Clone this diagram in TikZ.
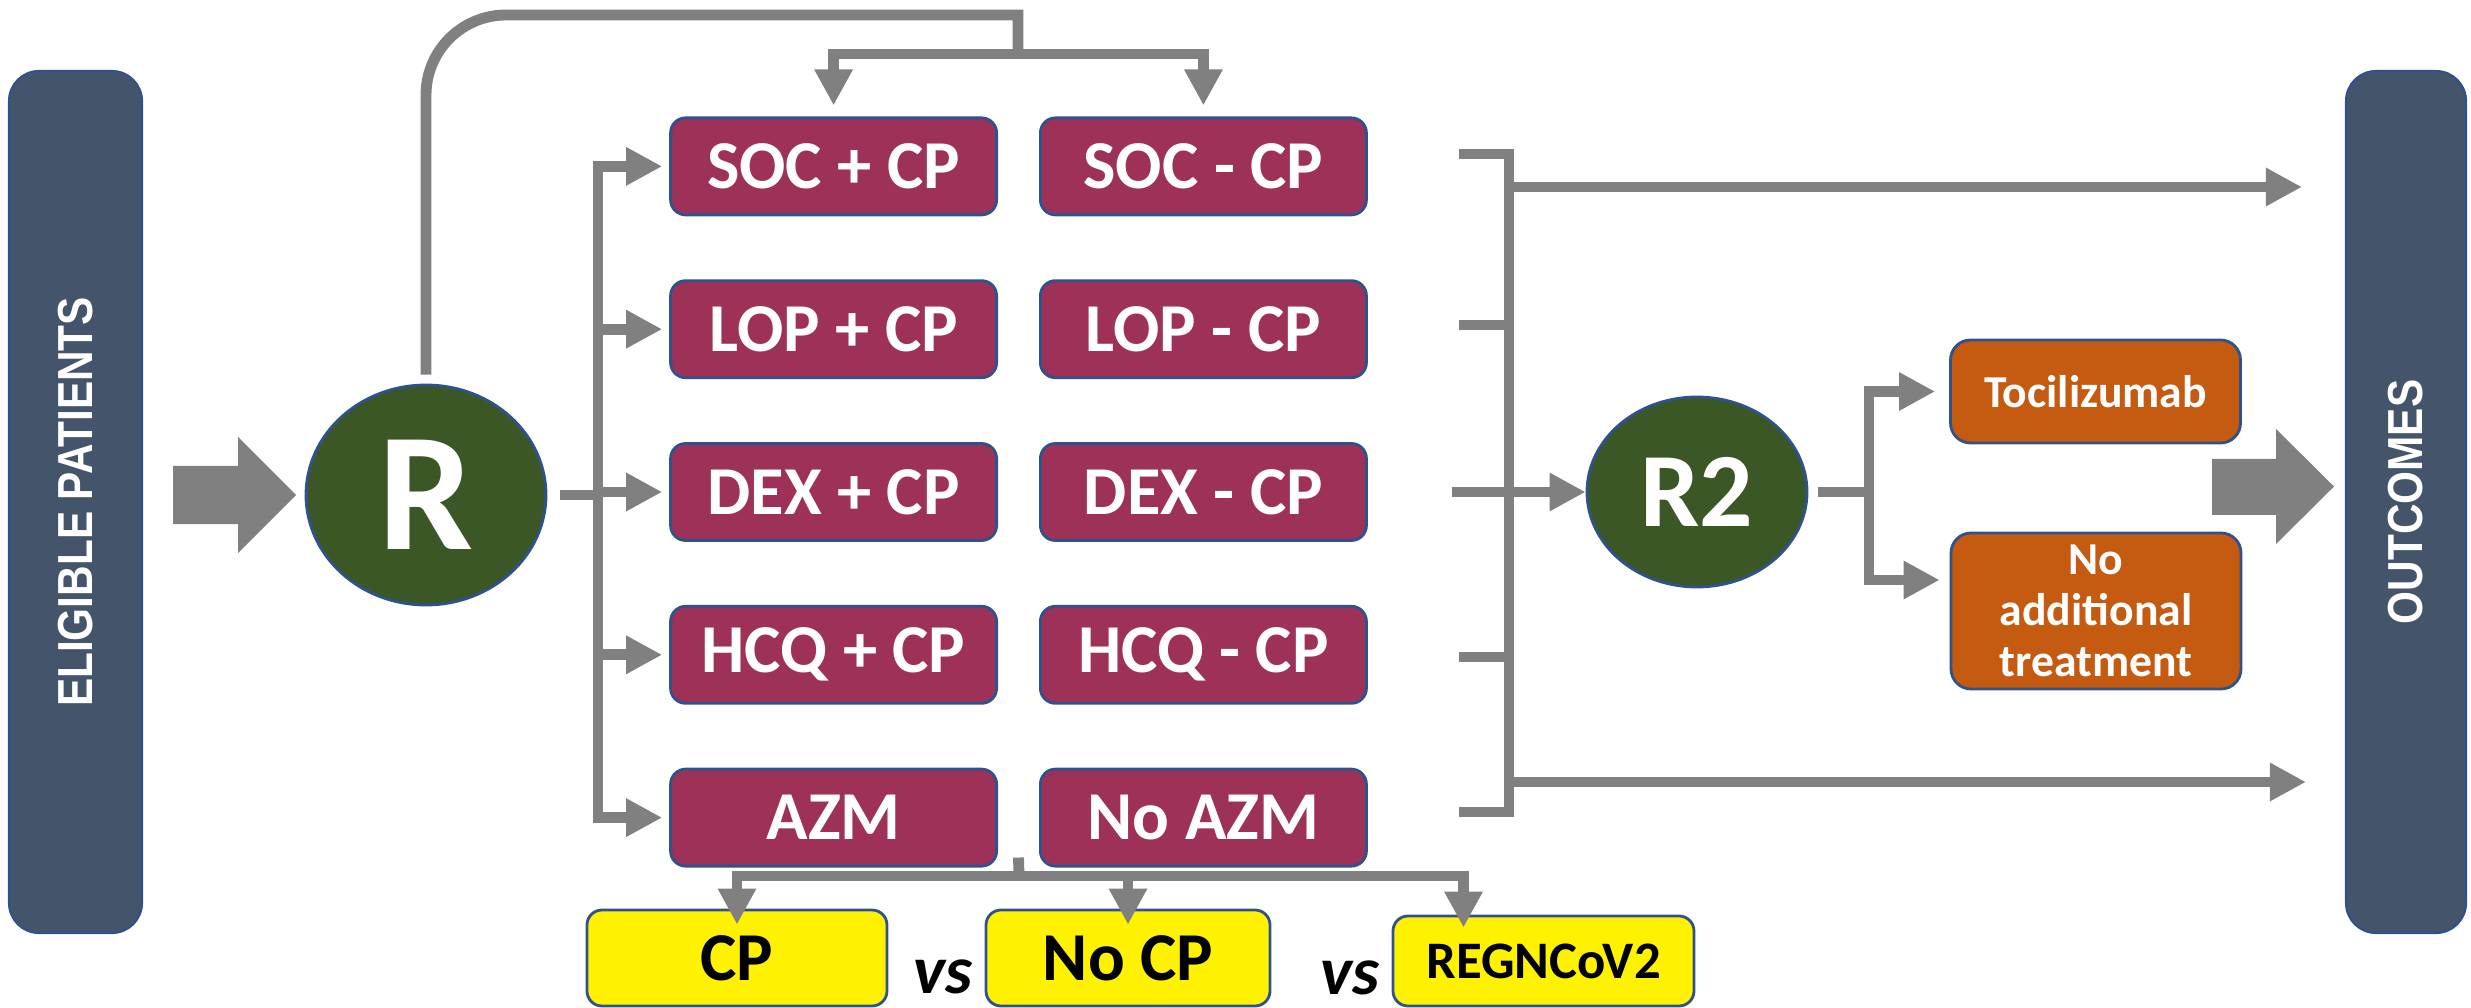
\documentclass[tikz,border=0pt]{standalone}
\usepackage{fontspec}
\setmainfont{Carlito}
\newfontfamily\barfont{Liberation Sans}
\usepackage{tikz}
\usetikzlibrary{positioning, calc, arrows.meta, shapes.geometric}
\definecolor{slate}{HTML}{44546A}
\definecolor{edge}{HTML}{2F528F}
\definecolor{plum}{HTML}{9E3158}
\definecolor{darkgreen}{RGB}{59,87,37}
\definecolor{rust}{HTML}{C55A11}
\definecolor{linegray}{HTML}{808080}
\newcommand{\bartext}[1]{\scalebox{0.86}[1]{\barfont\bfseries #1}}
\newcommand{\fsize}[1]{\fontsize{#1}{#1}\selectfont}

\begin{document}
\begin{tikzpicture}[
			sidebar/.style={
					rectangle, draw=edge, line width=0.6pt, fill=slate, rounded corners=0.3cm,
					minimum height=8.62cm, text=white, font=\fsize{14}
				},
			randnode/.style={
					ellipse, draw=edge, line width=0.8pt, fill=darkgreen, text=white, inner sep=0pt
				},
			arm/.style={
					rectangle, draw=edge, line width=0.8pt, fill=plum, rounded corners=0.15cm,
					minimum width=3.26cm, minimum height=0.97cm, text=white, inner sep=0pt,
					font=\fsize{19.5}\bfseries
				},
			second/.style={
					rectangle, draw=edge, line width=0.8pt, fill=rust, rounded corners=0.2cm,
					minimum width=2.9cm, text=white, align=center, inner sep=0pt,
					font=\fontsize{13}{14.5}\selectfont\bfseries
				},
			compare/.style={
					rectangle, draw=edge, line width=0.8pt, fill=yellow, rounded corners=0.15cm,
					minimum height=0.96cm, inner sep=0pt, font=\fsize{19.5}\bfseries
				},
			conn/.style={draw=linegray, line width=3.1pt},
			arr/.style={conn, -{Triangle[length=3.6mm, width=3.6mm]}}
		]
		\useasboundingbox (0,0) rectangle (24.71,-10.08);

		% Side bars
		\node[sidebar, minimum width=1.33cm] (elig) at (0.755,-5.02) {};
		\node[rotate=90, text=white, font=\fsize{14}] at (elig.center) {\bartext{ELIGIBLE PATIENTS}};
		\node[sidebar, minimum width=1.20cm] (out) at (24.06,-5.02) {};
		\node[rotate=90, text=white, font=\fsize{14}] at (out.center) {\bartext{OUTCOMES}};

		% Big block arrows
		\fill[linegray] (1.73,-4.66) -- (2.38,-4.66) -- (2.38,-4.37) -- (2.96,-4.95)
			-- (2.38,-5.53) -- (2.38,-5.24) -- (1.73,-5.24) -- cycle;
		\fill[linegray] (22.12,-4.59) -- (22.76,-4.59) -- (22.76,-4.29) -- (23.34,-4.865)
			-- (22.76,-5.44) -- (22.76,-5.15) -- (22.12,-5.15) -- cycle;

		% Randomisation nodes
		\node[randnode, minimum width=2.40cm, minimum height=2.20cm, font=\fsize{48}\bfseries] (R) at (4.26,-4.95) {R};
		\node[randnode, minimum width=2.20cm, minimum height=1.90cm, font=\fsize{30}\bfseries] (R2) at (16.97,-4.92) {R2};

		% Treatment arms
		\matrix[column sep=0.41cm, row sep=0.63cm] (arms) at (10.185,-4.92) {
			\node[arm] (socp) {SOC + CP}; &
			\node[arm] (socm) {SOC - CP}; \\
			\node[arm] (lopp) {LOP + CP}; &
			\node[arm] (lopm) {LOP - CP}; \\
			\node[arm] (dexp) {DEX + CP}; &
			\node[arm] (dexm) {DEX - CP}; \\
			\node[arm] (hcqp) {HCQ + CP}; &
			\node[arm] (hcqm) {HCQ - CP}; \\
			\node[arm] (azm) {AZM}; &
			\node[arm] (noazm) {No AZM}; \\
		};

		% Second randomisation
		\node[second, minimum height=1.03cm] (toci) at (20.955,-3.915) {Tocilizumab};
		\node[second, minimum height=1.56cm] (noadd) at (20.96,-6.11) {No\\additional\\treatment};

		% Plasma comparison
		\node[compare, minimum width=3.0cm] (cp) at (7.37,-9.58) {CP};
		\node[compare, minimum width=2.84cm] (nocp) at (11.28,-9.58) {No CP};
		\node[compare, minimum width=3.01cm, minimum height=0.90cm, font=\fsize{15}\bfseries] (regn) at (15.435,-9.61) {REGNCoV2};
		\node[anchor=base, font=\fsize{19.5}\bfseries\itshape] (vs1) at (9.43,-9.93) {vs};
		\node[anchor=base, font=\fsize{19.5}\bfseries\itshape] (vs2) at (13.50,-9.94) {vs};

		\coordinate (topsplit) at (10.18,-0.54);
		\coordinate (topcorner) at (10.18,-0.15);
		\coordinate (lsp) at (5.98,-4.92);
		\coordinate (otop) at (15.09,-1.87);
		\coordinate (obot) at (15.09,-7.82);
		\coordinate (r2sp) at (18.69,-4.92);
		\coordinate (bsp) at (10.19,-8.76);

		% Over the top to the SOC pair
		\draw[conn] ([yshift=0.9mm]R.north) -- ($(R.north |- topcorner)+(0,-0.8)$)
			arc[start angle=180, end angle=90, radius=0.8] -- (topcorner) -- (topsplit);
		\draw[arr, shorten >=1.1mm] (topsplit) -| (socp.north);
		\draw[arr, shorten >=1.1mm] (topsplit) -| (socm.north);

		% R to the arms
		\draw[conn] ([xshift=1.3mm]R.east) -- (R.east -| lsp);
		\draw[arr, shorten >=0.7mm] (lsp |- azm.west) |- (socp.west);
		\draw[arr, shorten >=0.7mm] (lsp |- socp.west) |- (azm.west);
		\foreach \b in {lopp, dexp, hcqp}
		\draw[arr, shorten >=0.7mm] (lsp |- \b.west) -- (\b.west);

		% Arms to outcomes and R2
		\draw[conn] (14.59,-1.54) -| (15.09,-8.12) -- (14.59,-8.12);
		\foreach \y in {-3.25, -6.57}
		\draw[conn] (14.59,\y) -- (15.09,\y);
		\draw[arr] ([xshift=-13.4mm]R2.west) -- (R2.west);
		\draw[arr, shorten >=4.3mm] (otop) -- (otop -| out.west);
		\draw[arr, shorten >=3.9mm] (obot) -- (obot -| out.west);

		% R2 to the add-on arms
		\draw[conn] ([xshift=1mm]R2.east) -- (r2sp);
		\draw[arr, shorten >=1.4mm] (r2sp) |- (toci.west);
		\draw[arr, shorten >=1mm] (r2sp) |- ([yshift=3.1mm]noadd.west);

		% Plasma comparison arrows
		\draw[conn] ([yshift=1mm]$(azm.south east)!0.5!(noazm.south west)$) -- (bsp);
		\draw[arr, shorten >=-1.6mm] (bsp) -| (cp.north);
		\draw[arr, shorten >=-1.3mm] (bsp) -| ([xshift=-8mm]regn.north);
		\draw[arr, shorten >=-1.6mm] (nocp.north |- bsp) -- (nocp.north);

	\end{tikzpicture}
\end{document}
